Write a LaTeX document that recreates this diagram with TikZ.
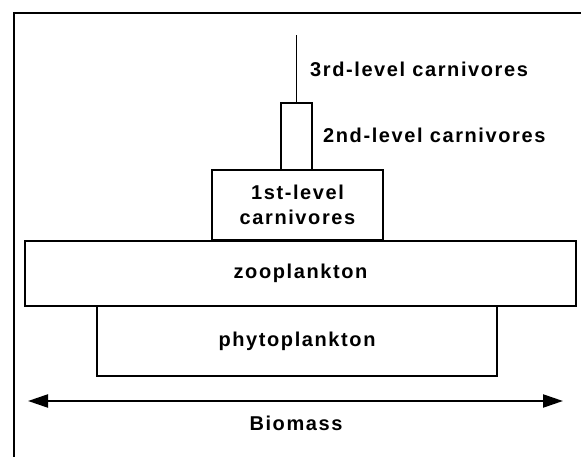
\documentclass[tikz,border=0pt]{standalone}
\usepackage{fontspec}
\usepackage{tikz}
\usetikzlibrary{arrows.meta, positioning}
\newfontfamily\pyrfont{Liberation Sans}[LetterSpace=8]

\begin{document}
\begin{tikzpicture}[
  x=1pt, y=-1pt,
  level/.style={draw, line width=2.2pt, inner sep=0pt, minimum width=#1},
  lbl/.style={font=\pyrfont\bfseries\fontsize{20}{25}\selectfont, align=center, inner sep=0pt},
  frm/.style={line width=2.2pt},
  arr/.style={{Triangle[length=20pt,width=13pt]}-{Triangle[length=20pt,width=13pt]}, line width=2.2pt}
]
\useasboundingbox (0,0) rectangle (581,457);
% frame
\coordinate (ftl) at (14,13);
\coordinate (ftr) at (581,13);
\coordinate (fbl) at (14,457);
\draw[frm] (ftr) -- (ftl) -- (fbl);

% the levels
\node[level=400pt, minimum height=70pt] (phyto) at (297,341)   {};
\node[level=551pt, minimum height=65pt] (zoo)   at (300.5,273.5) {};
\node[level=171pt, minimum height=70pt] (c1)    at (297.5,205) {};
\node[level=31pt,  minimum height=67pt] (c2)    at (296.5,136.5) {};
\coordinate (c3top) at (296.5,35);
\draw[line width=1.8pt] (c2.north) -- (c3top);

\node[lbl] at (phyto) {phytoplankton};
\node[lbl] at (zoo)   {zooplankton};
\node[lbl] at (c1)    {1st-level\\carnivores};
\node[lbl, anchor=west] (t2) at (323,135) {2nd-level carnivores};
\node[lbl, anchor=west] (t3) at (310,69)  {3rd-level carnivores};

% biomass axis
\coordinate (bl) at (28,401);
\coordinate (br) at (563,401);
\draw[arr] (bl) -- (br);
\node[lbl] (bio) at (296,423) {Biomass};
\end{tikzpicture}
\end{document}
